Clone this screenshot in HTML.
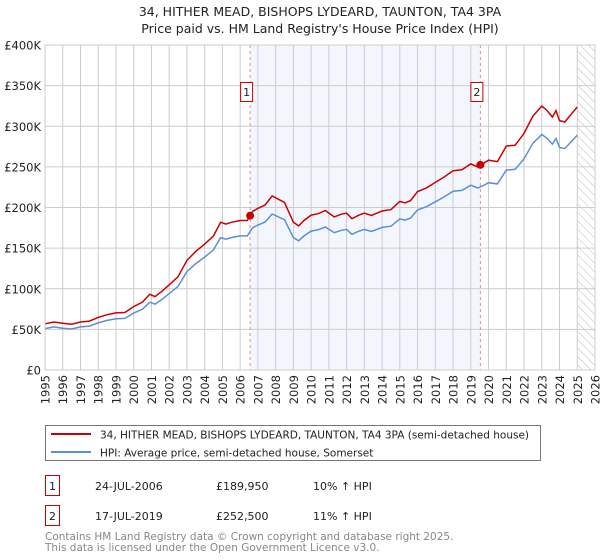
<!DOCTYPE html>
<html><head><meta charset="utf-8"><style>
body{margin:0;background:#fff;font-family:"DejaVu Sans","Liberation Sans",sans-serif;}
svg{display:block}
</style></head><body>
<svg width="600" height="560" xmlns="http://www.w3.org/2000/svg" font-family="DejaVu Sans, Liberation Sans, sans-serif">
<text x="320" y="16" text-anchor="middle" font-size="12.5" fill="#222">34, HITHER MEAD, BISHOPS LYDEARD, TAUNTON, TA4 3PA</text>
<text x="320" y="33" text-anchor="middle" font-size="12.5" fill="#222">Price paid vs. HM Land Registry's House Price Index (HPI)</text>
<g id="plot"></g>
<g>
<rect x="45.5" y="425.5" width="495" height="35" fill="#fff" stroke="#777"/>
<line x1="51" y1="434" x2="91" y2="434" stroke="#cc0000" stroke-width="2"/>
<text x="100" y="438.5" font-size="10.5" fill="#222">34, HITHER MEAD, BISHOPS LYDEARD, TAUNTON, TA4 3PA (semi-detached house)</text>
<line x1="51" y1="452" x2="91" y2="452" stroke="#5b8fd4" stroke-width="2"/>
<text x="100" y="456.5" font-size="10.5" fill="#222">HPI: Average price, semi-detached house, Somerset</text>
</g>
<g font-size="11" fill="#222">
<rect x="45.5" y="475.5" width="14" height="20" fill="#fff" stroke="#cc0000"/>
<text x="52.5" y="490" text-anchor="middle">1</text>
<text x="95" y="490">24-JUL-2006</text><text x="216" y="490">£189,950</text><text x="313" y="490">10% ↑ HPI</text>
<rect x="45.5" y="505.5" width="14" height="20" fill="#fff" stroke="#cc0000"/>
<text x="52.5" y="520" text-anchor="middle">2</text>
<text x="95" y="520">17-JUL-2019</text><text x="216" y="520">£252,500</text><text x="313" y="520">11% ↑ HPI</text>
</g>
<text x="45" y="540" font-size="10.5" fill="#888">Contains HM Land Registry data © Crown copyright and database right 2025.</text>
<text x="45" y="551" font-size="10.5" fill="#888">This data is licensed under the Open Government Licence v3.0.</text>
</svg>
<script>
const years=[1995,1996,1997,1998,1999,2000,2001,2002,2003,2004,2005,2006,2007,2008,2009,2010,2011,2012,2013,2014,2015,2016,2017,2018,2019,2020,2021,2022,2023,2024,2025,2026];
const yTicks=[0,50000,100000,150000,200000,250000,300000,350000,400000];
const yTickLabels=["£0","£50K","£100K","£150K","£200K","£250K","£300K","£350K","£400K"];
const hpiDates=[1995.0,1995.5,1996.0,1996.5,1997.0,1997.5,1998.0,1998.5,1999.0,1999.5,2000.0,2000.5,2000.9,2001.2,2001.6,2002.0,2002.5,2003.0,2003.5,2004.0,2004.5,2004.9,2005.2,2005.5,2006.0,2006.4,2006.7,2007.0,2007.4,2007.8,2008.2,2008.5,2009.0,2009.3,2009.6,2010.0,2010.4,2010.8,2011.3,2011.7,2012.0,2012.3,2012.7,2013.0,2013.4,2013.7,2014.0,2014.5,2015.0,2015.3,2015.6,2016.0,2016.5,2017.0,2017.5,2018.0,2018.5,2019.0,2019.4,2019.7,2020.0,2020.5,2021.0,2021.5,2022.0,2022.5,2023.0,2023.3,2023.6,2023.8,2024.0,2024.3,2024.7,2025.0];
const hpiValues=[51000,53000,51500,50500,53000,54000,58000,61000,63000,63500,70000,75000,83500,81000,87000,94000,103000,121000,131000,139000,148000,163000,161000,163000,165000,165000,175000,178500,182000,192000,188000,185000,163000,159000,165000,171000,172500,176000,169000,172000,173000,167000,171000,173000,170500,173000,175500,177000,186000,184500,187000,197000,201000,207000,213000,220000,221000,227500,224000,227000,230500,229000,246000,247000,260000,279000,290000,285000,278000,285000,274000,272500,282000,289000];
const saleDates=[2006.56,2019.54];
const salePrices=[189950,252500];
const NS="http://www.w3.org/2000/svg";
const X0=45,X1=595,Y0=370,Y1=45;
const xS=t=>X0+(t-1995)/(2026-1995)*(X1-X0);
const yS=v=>Y0-v/400000*(Y0-Y1);
function hpiAt(t){for(let i=0;i<hpiDates.length-1;i++){if(t>=hpiDates[i]&&t<=hpiDates[i+1]){const f=(t-hpiDates[i])/(hpiDates[i+1]-hpiDates[i]);return hpiValues[i]+f*(hpiValues[i+1]-hpiValues[i]);}}return hpiValues[hpiValues.length-1];}
const g=document.getElementById('plot');
function mk(tag,attrs,parent){const e=document.createElementNS(NS,tag);for(const k in attrs)e.setAttribute(k,attrs[k]);(parent||g).appendChild(e);return e;}
let r=mk('rect',{x:xS(saleDates[0]),y:Y1,width:xS(saleDates[1])-xS(saleDates[0]),height:Y0-Y1,fill:'#eef3fc',opacity:0.7});


const defs=mk('defs',{});
const pat=mk('pattern',{id:'hatch',width:6,height:6,patternUnits:'userSpaceOnUse',patternTransform:'rotate(-45)'},defs);
mk('line',{x1:0,y1:0,x2:0,y2:6,stroke:'#bbb','stroke-width':1},pat);
let h=mk('rect',{x:xS(2025),y:Y1,width:X1-xS(2025),height:Y0-Y1,fill:'url(#hatch)'});


years.forEach((yr,i)=>{
 const x=xS(yr);
 const l=mk('line',{x1:x,y1:Y1,x2:x,y2:Y0,stroke:'#ccc','stroke-width':1});
 
 
 const t=mk('text',{x:0,y:0,transform:`translate(${x+4.5},${Y0+5}) rotate(-90)`,'text-anchor':'end','font-size':11.5,fill:'#222'});
 t.textContent=yr;
 
 
});
yTicks.forEach((v,i)=>{
 const y=yS(v);
 const l=mk('line',{x1:X0,y1:y,x2:X1,y2:y,stroke:'#ccc','stroke-width':1});
 
 
 const t=mk('text',{x:X0-4,y:y+4.5,'text-anchor':'end','font-size':11.5,fill:'#222'});
 t.textContent=yTickLabels[i];
 
 
});
saleDates.forEach((d,i)=>{
 const x=xS(d);
 const l=mk('line',{x1:x,y1:Y1,x2:x,y2:Y0,stroke:'#e88','stroke-width':1,'stroke-dasharray':'3,3'});
 
 
 const b=mk('rect',{x:x-9.5,y:82.5,width:12,height:19,fill:'#fff',stroke:'#cc0000'});
 
 
 const t=mk('text',{x:x-3.5,y:96,'text-anchor':'middle','font-size':11,fill:'#222'});
 t.textContent=String(i+1);
 
 
});
let p=hpiDates.map((d,i)=>(i?'L':'M')+xS(d).toFixed(1)+','+yS(hpiValues[i]).toFixed(1)).join('');
const hl=mk('path',{d:p,fill:'none',stroke:'#5b8fd4','stroke-width':1.5});


const ratios=saleDates.map((d,i)=>salePrices[i]/hpiAt(d));
p=hpiDates.map((d,i)=>{const rt=d<saleDates[1]?ratios[0]:ratios[1];return (i?'L':'M')+xS(d).toFixed(1)+','+yS(hpiValues[i]*rt).toFixed(1);}).join('');
const pl=mk('path',{d:p,fill:'none',stroke:'#cc0000','stroke-width':1.5});


saleDates.forEach((d,i)=>{
 const c=mk('circle',{cx:xS(d),cy:yS(salePrices[i]),r:4,fill:'#cc0000'});
 
 
});
const fr=mk('rect',{x:X0,y:Y1,width:X1-X0,height:Y0-Y1,fill:'none',stroke:'#ccc'});


</script>
</body></html>
